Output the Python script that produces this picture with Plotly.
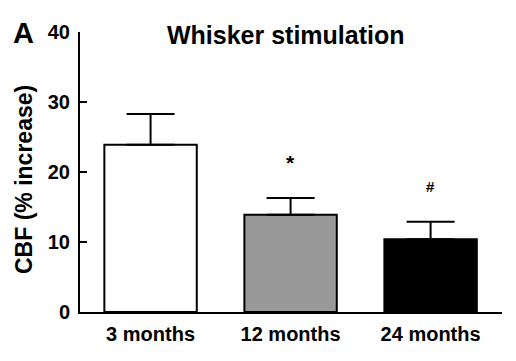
import plotly.graph_objects as go

categories = ["3 months", "12 months", "24 months"]
values = [23.9, 13.9, 10.4]
errors = [4.4, 2.4, 2.5]
colors = ["#ffffff", "#999999", "#000000"]
sig_marks = ["", "*", "#"]
sig_y = [None, 21.3, 17.9]
sig_size = [16, 21, 15]
y_ticks = [0, 10, 20, 30, 40]

# page body has an 8px default margin; compensate
OFF = 8
WIN_W, WIN_H = 516, 361
W, H = WIN_W - OFF, WIN_H - OFF
PL, PR, PT, PB = 80, 502, 32, 312  # plot area in window pixels
L, R, T, B = PL - OFF, WIN_W - PR, PT - OFF, WIN_H - PB
pw, ph = PR - PL, PB - PT

def px_x(px):
    return (px - PL) / pw

def px_y(py):
    return (PB - py) / ph

fig = go.Figure()
fig.add_trace(go.Bar(
    x=list(range(len(categories))), y=values,
    width=0.66,
    marker=dict(color=colors, line=dict(color="#000000", width=2)),
    error_y=dict(type="data", array=errors, arrayminus=[0] * 3, symmetric=False,
                 color="#000000", thickness=2, width=24),
    showlegend=False,
))

font_family = "Liberation Sans, Arial, sans-serif"

annotations = []
for i, (m, yv, sz) in enumerate(zip(sig_marks, sig_y, sig_size)):
    if m:
        annotations.append(dict(x=i, y=yv, xref="x", yref="y", text=f"<b>{m}</b>", showarrow=False,
                                font=dict(family=font_family, size=sz, color="#000"),
                                xanchor="center", yanchor="middle"))
annotations.append(dict(x=px_x(286), y=px_y(35), xref="paper", yref="paper",
                        text="<b>Whisker stimulation</b>", showarrow=False,
                        font=dict(family=font_family, size=25, color="#000"),
                        xanchor="center", yanchor="middle"))
annotations.append(dict(x=px_x(23), y=px_y(33), xref="paper", yref="paper",
                        text="<b>A</b>", showarrow=False,
                        font=dict(family=font_family, size=29, color="#000"),
                        xanchor="center", yanchor="middle"))
annotations.append(dict(x=px_x(24), y=px_y(180), xref="paper", yref="paper",
                        text="<b>CBF (% increase)</b>", showarrow=False, textangle=-90,
                        font=dict(family=font_family, size=23, color="#000"),
                        xanchor="center", yanchor="middle"))

fig.update_layout(
    width=W, height=H,
    margin=dict(l=L, r=R, t=T, b=B, pad=0),
    paper_bgcolor="white", plot_bgcolor="white",
    annotations=annotations,
    xaxis=dict(
        tickmode="array", tickvals=list(range(len(categories))),
        ticktext=[f"<b>{c}</b>" for c in categories],
        range=[-0.504, 2.51], showline=True, linecolor="#000", linewidth=2,
        ticks="", showgrid=False, zeroline=False, automargin=False,
        ticklabelstandoff=3,
        tickfont=dict(family=font_family, size=20, color="#000"),
    ),
    yaxis=dict(
        range=[0, 40], tickvals=y_ticks, ticktext=[f"<b>{t}</b>" for t in y_ticks],
        showline=True, linecolor="#000", linewidth=2,
        ticks="inside", ticklen=7, tickwidth=2, tickcolor="#000",
        showgrid=False, zeroline=False, ticklabelstandoff=4, automargin=False,
        tickfont=dict(family=font_family, size=20, color="#000"),
    ),
)

fig.write_html("out.html")
